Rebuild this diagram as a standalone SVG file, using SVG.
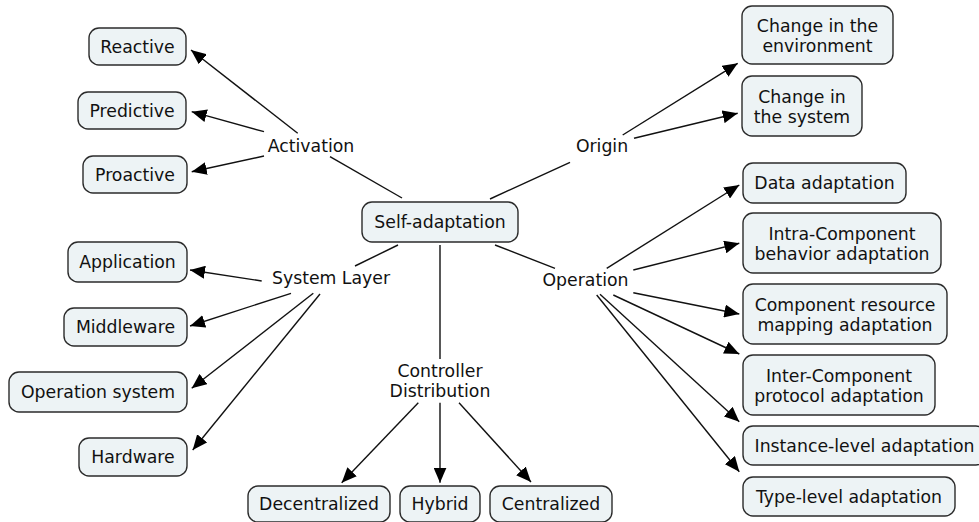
<svg xmlns="http://www.w3.org/2000/svg" width="979" height="522" viewBox="0 0 979 522">
<style>
.box{fill:#edf3f5;stroke:#2b2b2b;stroke-width:1.4}
text{font-family:"DejaVu Sans",Verdana,sans-serif;font-size:17.3px;fill:#111;text-anchor:middle}
.c line{stroke:#111;stroke-width:1.4}
.a{marker-end:url(#arr)}
</style>
<defs>
<marker id="arr" markerUnits="userSpaceOnUse" markerWidth="15" markerHeight="13" refX="15" refY="6.5" orient="auto">
<path d="M0,0 L15,6.5 L0,13 Z" fill="#000"/>
</marker>
</defs>
<rect width="979" height="522" fill="#fff"/>
<g class="c" id="connectors">
<line x1="330" y1="156.7" x2="402" y2="198"/>
<line class="a" x1="297.7" y1="133.3" x2="191" y2="50"/>
<line class="a" x1="264" y1="131.7" x2="191.7" y2="111.7"/>
<line class="a" x1="264" y1="156" x2="191.7" y2="171.7"/>
<line x1="355" y1="266" x2="398" y2="245"/>
<line class="a" x1="261.7" y1="281" x2="190" y2="270"/>
<line class="a" x1="291" y1="293.3" x2="190" y2="326"/>
<line class="a" x1="313.3" y1="293.3" x2="191.7" y2="388.3"/>
<line class="a" x1="320" y1="294" x2="192.7" y2="450"/>
<line x1="440" y1="245" x2="440" y2="359"/>
<line class="a" x1="418.3" y1="402.7" x2="341.7" y2="482.7"/>
<line class="a" x1="440" y1="402.7" x2="440" y2="482.7"/>
<line class="a" x1="459" y1="402.7" x2="531" y2="482"/>
<line x1="490" y1="199" x2="570" y2="162.3"/>
<line class="a" x1="622.7" y1="135" x2="737.7" y2="63.3"/>
<line class="a" x1="634" y1="138.3" x2="737.7" y2="113.3"/>
<line x1="495" y1="245" x2="555" y2="268.3"/>
<line class="a" x1="606.7" y1="268.3" x2="739.3" y2="185"/>
<line class="a" x1="633.3" y1="270" x2="739.3" y2="243.3"/>
<line class="a" x1="633.3" y1="292.7" x2="739.3" y2="314"/>
<line class="a" x1="613.3" y1="295" x2="739.3" y2="354"/>
<line class="a" x1="600" y1="294.3" x2="739.3" y2="421.7"/>
<line class="a" x1="596.7" y1="295" x2="739.3" y2="471.7"/>
</g>
<g id="self"><rect class="box" x="362" y="202" width="156" height="40" rx="10"/><text x="440" y="228">Self-adaptation</text></g>
<g id="activation"><text x="311" y="152">Activation</text></g>
<g id="reactive"><rect class="box" x="89" y="28" width="97" height="37" rx="10"/><text x="137.5" y="52.5">Reactive</text></g>
<g id="predictive"><rect class="box" x="78" y="92" width="108" height="37" rx="10"/><text x="132" y="116.5">Predictive</text></g>
<g id="proactive"><rect class="box" x="83" y="156" width="104" height="37" rx="10"/><text x="135" y="180.5">Proactive</text></g>
<g id="systemlayer"><text x="331" y="284">System Layer</text></g>
<g id="application"><rect class="box" x="68" y="242" width="119" height="40" rx="10"/><text x="127.5" y="268">Application</text></g>
<g id="middleware"><rect class="box" x="64" y="308" width="123" height="38" rx="10"/><text x="125.5" y="333">Middleware</text></g>
<g id="opsys"><rect class="box" x="9" y="372" width="178" height="40" rx="10"/><text x="98" y="398">Operation system</text></g>
<g id="hardware"><rect class="box" x="79" y="438" width="108" height="38" rx="10"/><text x="133" y="463">Hardware</text></g>
<g id="controller"><text x="440" y="377">Controller</text><text x="440" y="397">Distribution</text></g>
<g id="decentralized"><rect class="box" x="248" y="486" width="142" height="36" rx="10"/><text x="319" y="510">Decentralized</text></g>
<g id="hybrid"><rect class="box" x="400" y="486" width="80" height="36" rx="10"/><text x="440" y="510">Hybrid</text></g>
<g id="centralized"><rect class="box" x="490" y="486" width="122" height="36" rx="10"/><text x="551" y="510">Centralized</text></g>
<g id="origin"><text x="602" y="152">Origin</text></g>
<g id="env"><rect class="box" x="742" y="6" width="151" height="58" rx="10"/><text x="817.5" y="31.5">Change in the</text><text x="817.5" y="51.5">environment</text></g>
<g id="sys"><rect class="box" x="742" y="76" width="120" height="60" rx="10"/><text x="802" y="102.5">Change in</text><text x="802" y="122.5">the system</text></g>
<g id="operation"><text x="585.5" y="286">Operation</text></g>
<g id="data"><rect class="box" x="743" y="163" width="163" height="40" rx="10"/><text x="824.5" y="189">Data adaptation</text></g>
<g id="intra"><rect class="box" x="743" y="213" width="198" height="60" rx="10"/><text x="842" y="239.5">Intra-Component</text><text x="842" y="259.5">behavior adaptation</text></g>
<g id="resource"><rect class="box" x="743" y="284" width="204" height="60" rx="10"/><text x="845" y="310.5">Component resource</text><text x="845" y="330.5">mapping adaptation</text></g>
<g id="inter"><rect class="box" x="743" y="355" width="192" height="60" rx="10"/><text x="839" y="381.5">Inter-Component</text><text x="839" y="401.5">protocol adaptation</text></g>
<g id="instance"><rect class="box" x="743" y="426" width="243" height="39" rx="10"/><text x="864.5" y="451.5">Instance-level adaptation</text></g>
<g id="type"><rect class="box" x="743" y="477" width="212" height="39" rx="10"/><text x="849" y="502.5">Type-level adaptation</text></g>
</svg>
